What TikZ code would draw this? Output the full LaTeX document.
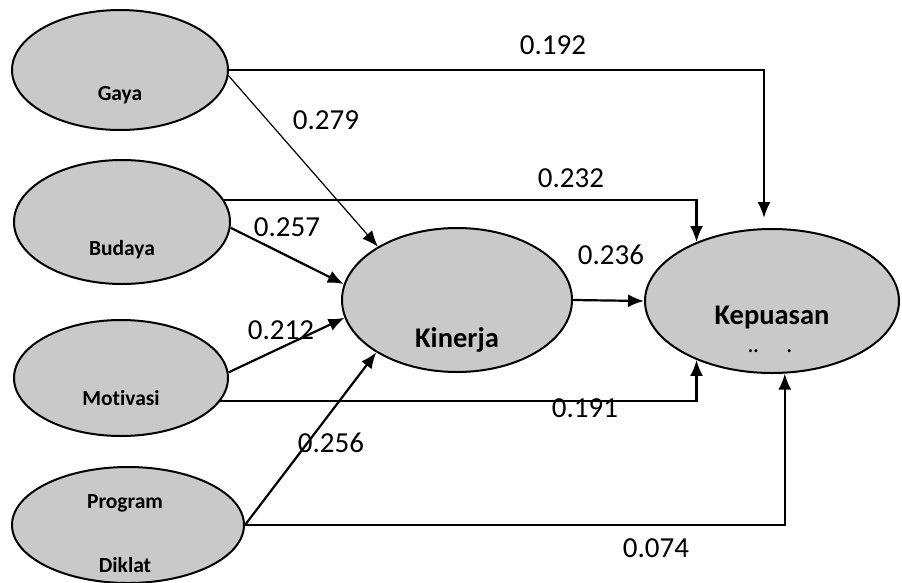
\documentclass[tikz,border=0pt]{standalone}
\usepackage{fontspec}
\setmainfont{Carlito}[Ligatures=NoCommon]
\usetikzlibrary{shapes.geometric,arrows.meta,calc}
\definecolor{varfill}{RGB}{201,201,201}
\begin{document}
\begin{tikzpicture}[x=1pt,y=-1pt,
  var/.style={ellipse,draw=black,line width=2pt,fill=varfill,inner sep=0pt},
  small/.style={font=\fontsize{21.5}{24}\selectfont\bfseries},
  big/.style={font=\fontsize{28.5}{31}\selectfont\bfseries},
  coef/.style={font=\fontsize{29}{31}\selectfont},
  conn/.style={line width=2.2pt,-{Latex[length=16pt,width=13pt]}},
  thinconn/.style={line width=1.2pt,-{Latex[length=16pt,width=13pt]}}]
\useasboundingbox (0,0) rectangle (902,582);
\fill[white] (0,0) rectangle (902,582);

% latent variables
\node[var,minimum width=216pt,minimum height=120pt] (gaya) at (120,70) {};
\node[var,minimum width=216pt,minimum height=124pt] (budaya) at (122,222) {};
\node[var,minimum width=214pt,minimum height=116pt] (motivasi) at (121,378) {};
\node[var,minimum width=232pt,minimum height=116pt] (program) at (128,525) {};
\node[var,minimum width=230pt,minimum height=144pt] (kinerja) at (457,300) {};
\node[var,minimum width=254pt,minimum height=144pt] (kepuasan) at (772,301) {};

% variable names
\node[small] (gayaT) at (120,95) {Gaya};
\node[small] (budayaT) at (122,250) {Budaya};
\node[small] (motivasiT) at (121,398) {Motivasi};
\node[small] (programT) at (125,503) {Program};
\node[small] (diklatT) at (125,565) {Diklat};
\node[big] (kinerjaT) at (457,340) {Kinerja};
\node[big] (kepuasanT) at (772,317) {Kepuasan};
\node[font=\fontsize{20}{22}\selectfont\bfseries,anchor=base,inner sep=1pt] (kepDots) at (770,352) {..\hspace{28pt}.};

% paths into Kinerja
\draw[thinconn] (gaya.-3) -- (kinerja.146);
\draw[conn] (budaya.-3) -- (kinerja.172);
\draw[conn] (motivasi.3) -- (kinerja.189);
\draw[conn] (program.east) -- (kinerja.213);

% paths into Kepuasan
\draw[conn] (gaya.east) -| ([shift={(-8,-10)}]kepuasan.north);
\draw[conn] (budaya.12) -| (kepuasan.142);
\draw[conn] (kinerja.east) -- (kepuasan.west);
\draw[conn] (motivasi.-13) -| (kepuasan.218);
\draw[conn] (program.east) -| (kepuasan.-80);

% path coefficients
\node[coef] (c192) at (553,45) {0.192};
\node[coef] (c279) at (326,120) {0.279};
\node[coef] (c232) at (571,178) {0.232};
\node[coef] (c257) at (287,227) {0.257};
\node[coef] (c236) at (611,255) {0.236};
\node[coef] (c212) at (281,330) {0.212};
\node[coef] (c191) at (585,408) {0.191};
\node[coef] (c256) at (331,443) {0.256};
\node[coef] (c074) at (656,548) {0.074};
\end{tikzpicture}
\end{document}
